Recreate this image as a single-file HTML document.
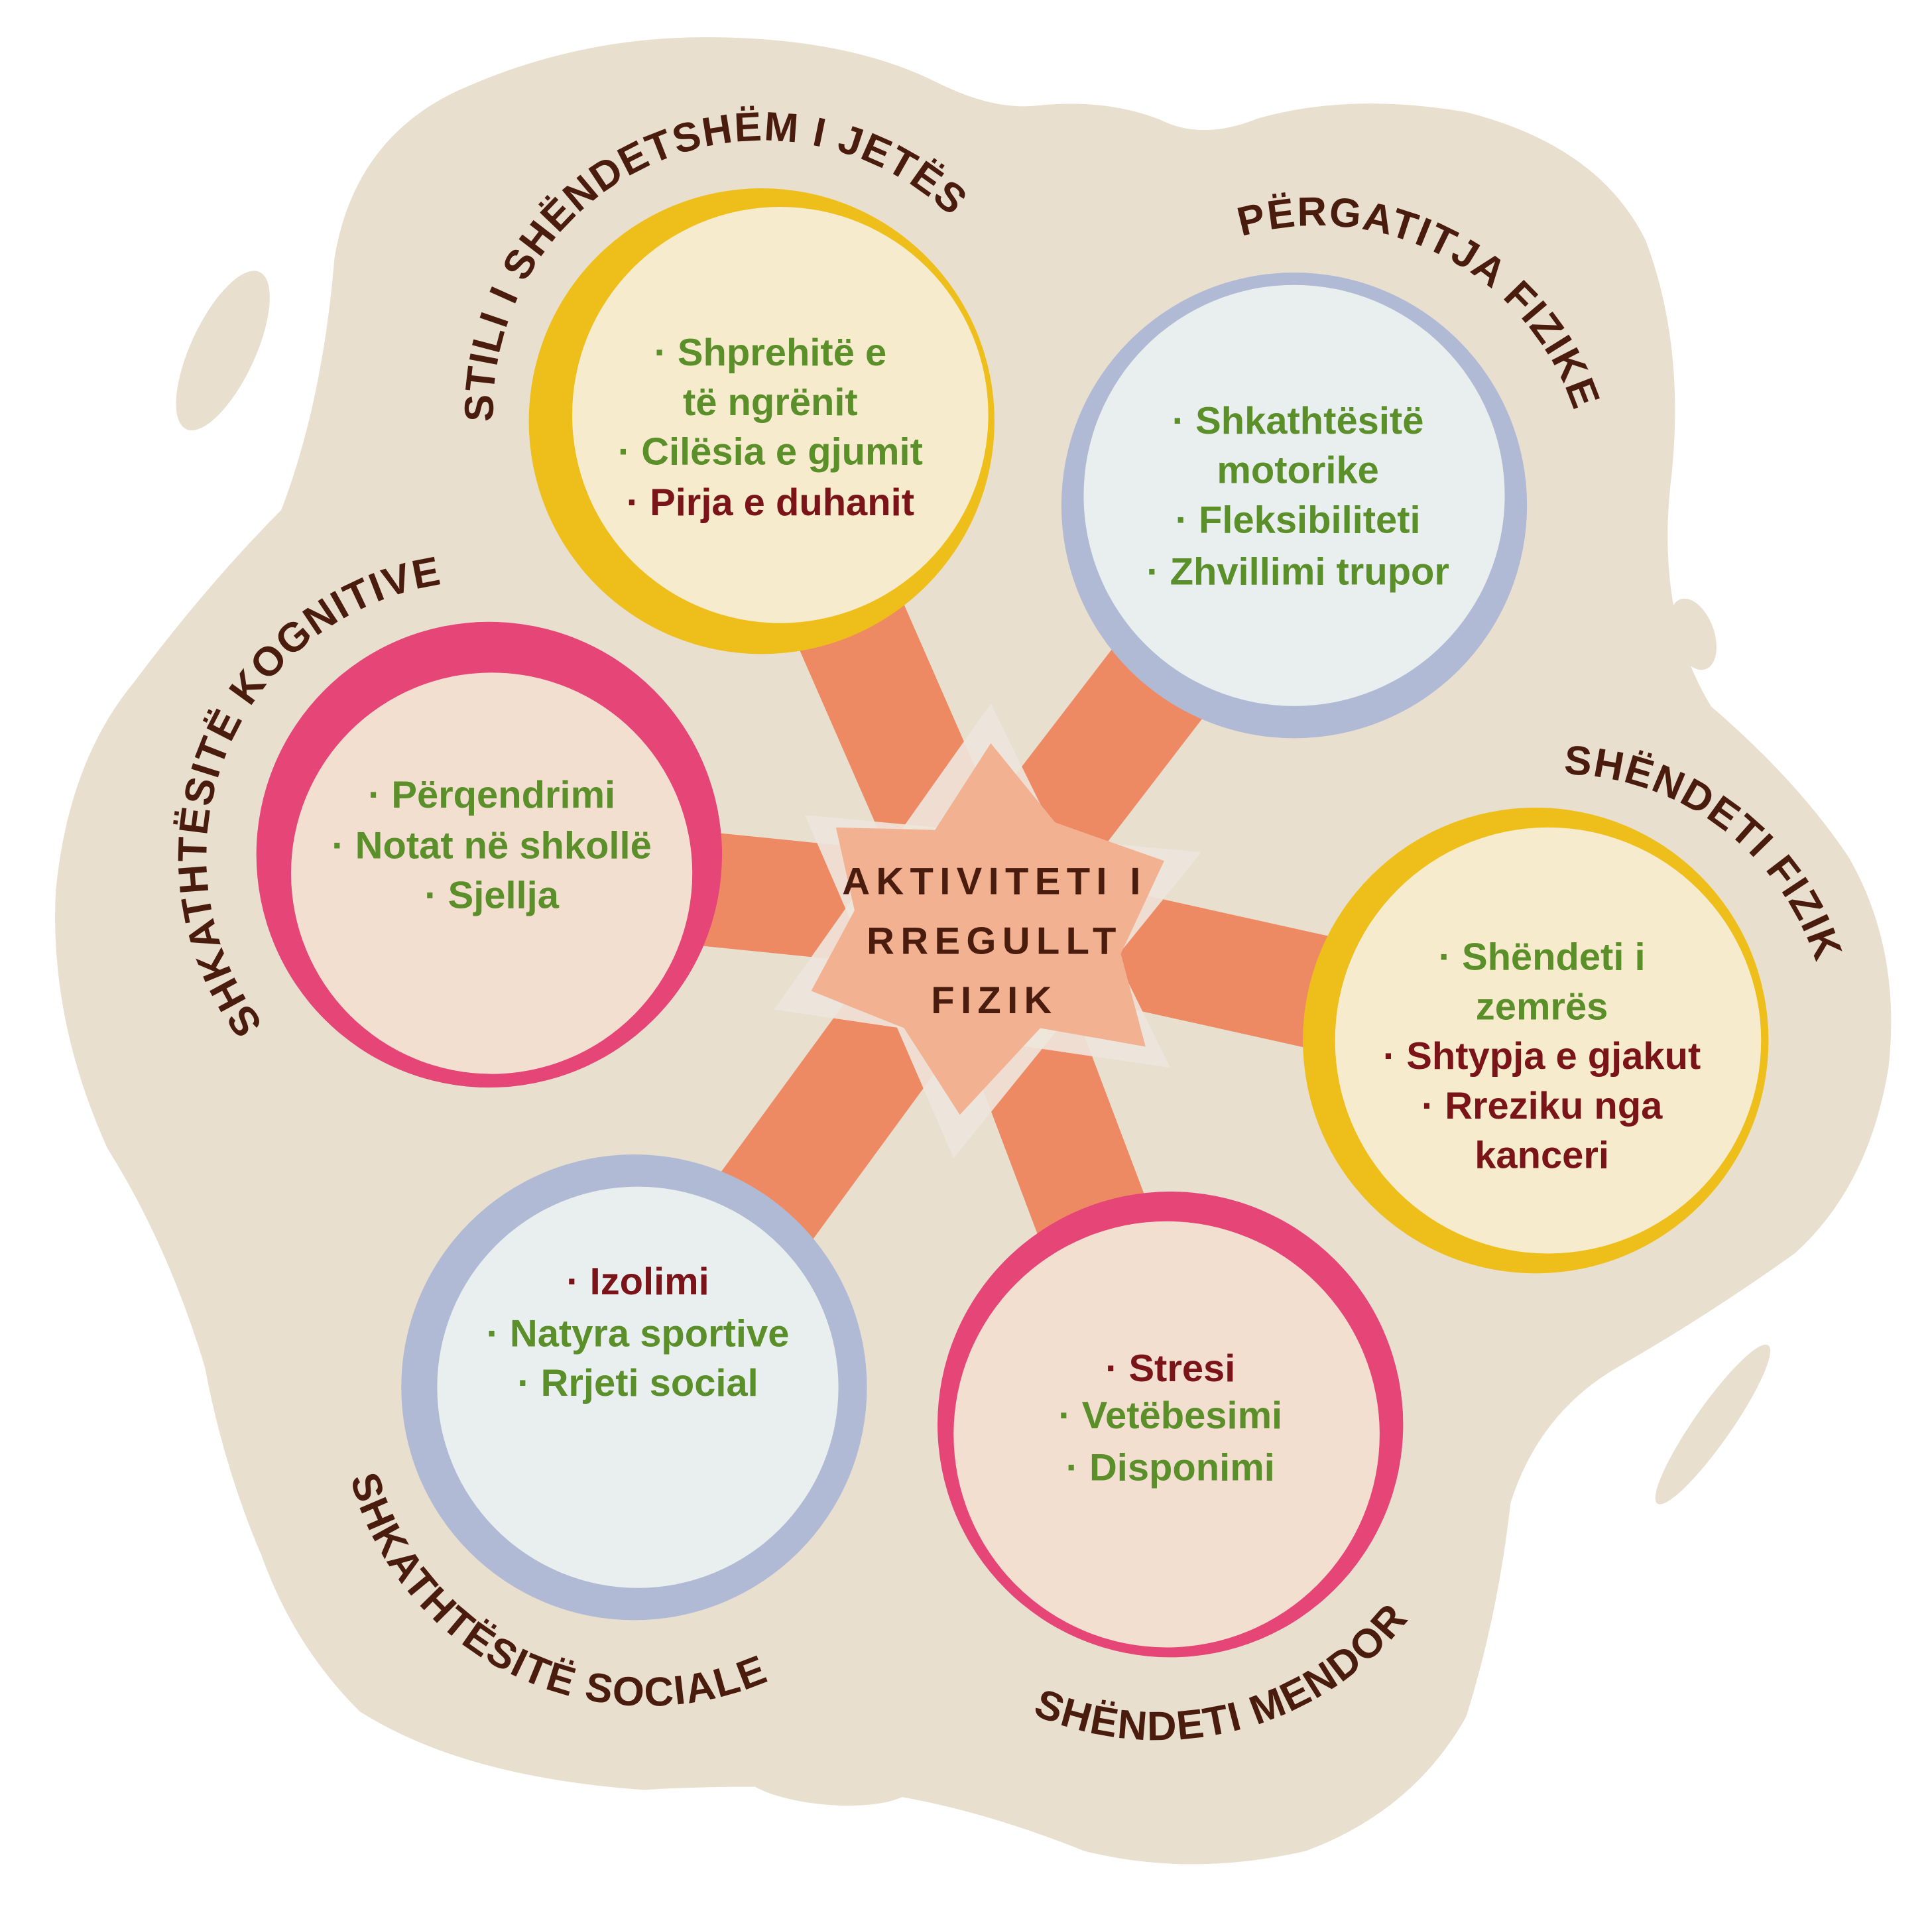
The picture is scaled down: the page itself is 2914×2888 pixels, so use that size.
<!DOCTYPE html>
<html><head><meta charset="utf-8"><style>
html,body{margin:0;padding:0;background:#fff}
svg{display:block}
text{font-family:"Liberation Sans","DejaVu Sans",sans-serif;font-weight:bold}
.g{fill:#5b8f2a;font-size:31px;text-anchor:middle}
.r{fill:#7a1419;font-size:31px;text-anchor:middle}
.l{fill:#4a1c0e;font-size:33px;letter-spacing:1px}
</style></head><body>
<svg width="2914" height="2888" viewBox="0 0 1560 1546" xmlns="http://www.w3.org/2000/svg">
<defs>
<path id="p1" d="M 400 360 A 218 218 0 0 1 782 190"/>
<path id="p2" d="M 990 195 A 218 218 0 0 1 1275 345"/>
<path id="p3" d="M 222 838 A 222 222 0 0 1 372 470"/>
<path id="p4" d="M 1250 625 A 218 218 0 0 1 1470 790"/>
<path id="p5" d="M 282 1190 A 248 248 0 0 0 625 1355"/>
<path id="p6" d="M 815 1375 A 258 258 0 0 0 1150 1290"/>
</defs>
<g fill="#e8dfcf" stroke="#e8dfcf" stroke-width="30" stroke-linejoin="round">
<path d="M285 210 Q300 120 380 85 Q470 45 570 45 Q680 45 750 80 Q800 105 840 100 Q890 95 930 110 Q970 130 1020 110 Q1090 90 1180 105 Q1280 130 1315 200 Q1345 280 1335 380 Q1320 500 1370 580 Q1440 640 1480 700 Q1520 770 1510 860 Q1495 950 1440 1000 Q1370 1050 1300 1090 Q1230 1130 1205 1210 Q1195 1300 1170 1380 Q1130 1450 1050 1480 Q960 1500 880 1480 Q780 1440 690 1430 Q600 1425 520 1430 Q380 1420 300 1370 Q250 1320 225 1250 Q195 1180 180 1100 Q150 1000 100 920 Q55 820 60 720 Q70 620 120 560 Q180 480 240 420 Q275 330 285 210 Z"/>
</g>
<g fill="#e8dfcf">
<ellipse cx="180" cy="283" rx="26" ry="70" transform="rotate(25 180 283)"/>
<ellipse cx="1367" cy="512" rx="17" ry="30" transform="rotate(-20 1367 512)"/>
<ellipse cx="173" cy="1015" rx="11" ry="42"/>
<ellipse cx="1383" cy="1150" rx="15" ry="78" transform="rotate(35 1383 1150)"/>
<ellipse cx="668" cy="1435" rx="70" ry="22" transform="rotate(5 668 1435)"/>
</g>
<g stroke="#ee8a63" stroke-width="92" stroke-linecap="butt">
<line x1="790" y1="740" x2="615" y2="340"/>
<line x1="790" y1="740" x2="1045" y2="408"/>
<line x1="790" y1="740" x2="395" y2="700"/>
<line x1="790" y1="740" x2="1240" y2="840"/>
<line x1="790" y1="740" x2="512" y2="1120"/>
<line x1="790" y1="740" x2="945" y2="1150"/>
</g>
<polygon fill="#ede6dc" opacity="0.9" points="800,568 945,862 625,815"/>
<polygon fill="#ede6dc" opacity="0.9" points="970,688 770,935 650,658"/>
<polygon fill="#f2b190" points="800,600 852,664 940,695 905,770 925,845 840,830 775,900 730,830 655,800 690,735 675,668 755,670"/>
<circle cx="615" cy="340" r="188" fill="#eebf1a"/>
<circle cx="630" cy="335" r="168" fill="#f7ebcd"/>
<circle cx="1045" cy="408" r="188" fill="#b1bad5"/>
<circle cx="1045" cy="400" r="170" fill="#e8efee"/>
<circle cx="395" cy="690" r="188" fill="#e54577"/>
<circle cx="397" cy="705" r="162" fill="#f3dfd0"/>
<circle cx="1240" cy="840" r="188" fill="#eebf1a"/>
<circle cx="1250" cy="840" r="172" fill="#f7ebcd"/>
<circle cx="512" cy="1120" r="188" fill="#b1bad5"/>
<circle cx="515" cy="1120" r="162" fill="#e8efee"/>
<circle cx="945" cy="1150" r="188" fill="#e54577"/>
<circle cx="942" cy="1158" r="172" fill="#f3dfd0"/>
<g fill="#4a1c0e" font-size="31" text-anchor="middle" letter-spacing="5">
<text x="803" y="722">AKTIVITETI I</text>
<text x="803" y="770">RREGULLT</text>
<text x="803" y="818">FIZIK</text>
</g>
<text class="g" x="622" y="295">· Shprehitë e</text>
<text class="g" x="622" y="335">të ngrënit</text>
<text class="g" x="622" y="375">· Cilësia e gjumit</text>
<text class="r" x="622" y="416">· Pirja e duhanit</text>
<text class="g" x="1048" y="350">· Shkathtësitë</text>
<text class="g" x="1048" y="390">motorike</text>
<text class="g" x="1048" y="430">· Fleksibiliteti</text>
<text class="g" x="1048" y="472">· Zhvillimi trupor</text>
<text class="g" x="397" y="652">· Përqendrimi</text>
<text class="g" x="397" y="693">· Notat në shkollë</text>
<text class="g" x="397" y="733">· Sjellja</text>
<text class="g" x="1245" y="783">· Shëndeti i</text>
<text class="g" x="1245" y="823">zemrës</text>
<text class="r" x="1245" y="863">· Shtypja e gjakut</text>
<text class="r" x="1245" y="903">· Rreziku nga</text>
<text class="r" x="1245" y="943">kanceri</text>
<text class="r" x="515" y="1045">· Izolimi</text>
<text class="g" x="515" y="1087">· Natyra sportive</text>
<text class="g" x="515" y="1127">· Rrjeti social</text>
<text class="r" x="945" y="1115">· Stresi</text>
<text class="g" x="945" y="1153">· Vetëbesimi</text>
<text class="g" x="945" y="1195">· Disponimi</text>
<text class="l"><textPath href="#p1" startOffset="50%" text-anchor="middle">STILI I SHËNDETSHËM I JETËS</textPath></text>
<text class="l"><textPath href="#p2" startOffset="50%" text-anchor="middle">PËRGATITJA FIZIKE</textPath></text>
<text class="l"><textPath href="#p3" startOffset="50%" text-anchor="middle">SHKATHTËSITË KOGNITIVE</textPath></text>
<text class="l"><textPath href="#p4" startOffset="50%" text-anchor="middle">SHËNDETI FIZIK</textPath></text>
<text class="l"><textPath href="#p5" startOffset="50%" text-anchor="middle">SHKATHTËSITË SOCIALE</textPath></text>
<text class="l"><textPath href="#p6" startOffset="50%" text-anchor="middle">SHËNDETI MENDOR</textPath></text>
</svg>
</body></html>
